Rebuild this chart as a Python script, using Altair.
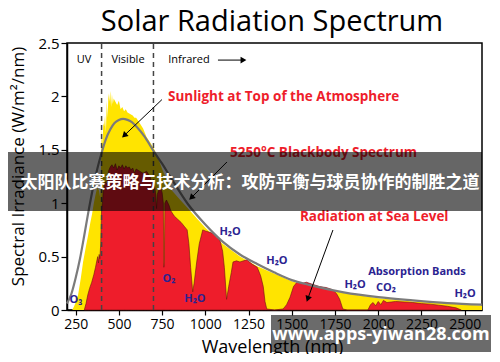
import altair as alt
import pandas as pd

# ---------------- data ----------------
# Sunlight at top of the atmosphere (yellow)
etr_wl = [230, 240, 250, 264, 280, 293, 310, 322, 335, 345, 355, 365, 375, 385, 392, 396,
          400, 405, 410, 415, 420, 425, 430, 435, 440, 445, 450, 455, 460, 465, 470, 480,
          490, 500, 510, 520, 530, 540, 550, 560, 570, 580, 590, 600, 620, 640, 660, 680,
          700, 725, 750, 800, 850, 900, 950, 1000, 1100, 1200, 1300, 1400, 1500, 1600,
          1700, 1800, 1900, 2000, 2100, 2200, 2300, 2400, 2500, 2600]
etr_val = [0.0, 0.03, 0.07, 0.14, 0.3, 0.45, 0.6, 0.7, 0.82, 0.9, 1.0, 1.08, 1.15, 1.12, 1.05, 1.25,
           1.7, 1.55, 1.75, 1.72, 1.82, 1.66, 1.96, 1.8, 2.03, 1.95, 2.05, 1.9, 2.02, 1.93, 1.98, 1.95,
           1.92, 1.96, 1.88, 1.9, 1.86, 1.88, 1.85, 1.84, 1.83, 1.82, 1.8, 1.8, 1.75, 1.7, 1.62, 1.57,
           1.52, 1.43, 1.32, 1.13, 1.04, 0.95, 0.86, 0.77, 0.62, 0.5, 0.41, 0.34, 0.27, 0.225,
           0.19, 0.16, 0.135, 0.11, 0.095, 0.08, 0.07, 0.06, 0.05, 0.043]

# Radiation at sea level (red)
sea_wl = [300, 310, 320, 330, 343, 355, 365, 371, 378, 382, 386, 390, 395, 400, 405, 410,
          420, 430, 440, 450, 460, 470, 480, 490, 500, 510, 520, 530, 540, 550, 560, 570,
          580, 590, 600, 620, 640, 660, 680, 690, 700, 712, 718, 722, 730, 740, 750, 757,
          760, 763, 766, 775, 790, 800, 820, 840, 860, 880, 895, 905, 915, 927, 935, 950,
          965, 985, 1000, 1040, 1065, 1085, 1100, 1110, 1123, 1135, 1150, 1160, 1180, 1200,
          1240, 1270, 1300, 1320, 1335, 1345, 1355, 1400, 1450, 1470, 1490, 1510, 1530, 1560,
          1585, 1620, 1660, 1700, 1737, 1760, 1777, 1795, 1820, 1940, 1955, 1970, 1985, 2000,
          2015, 2030, 2050, 2100, 2150, 2200, 2250, 2300, 2350, 2400, 2450, 2480]
sea_val = [0.0, 0.06, 0.14, 0.2, 0.26, 0.33, 0.4, 0.45, 0.5, 0.44, 0.52, 0.48, 0.62, 0.95, 1.0, 1.12,
           1.2, 1.18, 1.3, 1.34, 1.36, 1.33, 1.37, 1.31, 1.35, 1.33, 1.36, 1.32, 1.35, 1.33, 1.34, 1.31,
           1.33, 1.28, 1.32, 1.3, 1.28, 1.3, 1.25, 1.2, 1.22, 1.1, 0.95, 1.08, 1.12, 1.15, 1.1, 1.0,
           0.4, 0.45, 1.0, 1.03, 0.98, 0.93, 0.88, 0.85, 0.82, 0.78, 0.75, 0.62, 0.4, 0.17, 0.25, 0.45,
           0.62, 0.75, 0.74, 0.72, 0.68, 0.65, 0.55, 0.4, 0.1, 0.22, 0.35, 0.45, 0.46, 0.45,
           0.47, 0.43, 0.4, 0.32, 0.22, 0.08, 0.01, 0.0, 0.01, 0.05, 0.12, 0.22, 0.26, 0.25,
           0.26, 0.24, 0.22, 0.21, 0.19, 0.15, 0.1, 0.01, 0.0, 0.0, 0.05, 0.07, 0.04, 0.08,
           0.05, 0.09, 0.07, 0.08, 0.075, 0.07, 0.06, 0.055, 0.045, 0.035, 0.02, 0.0]

# 5250 °C blackbody spectrum (grey curve)
bb_wl = [200, 225, 250, 275, 300, 325, 350, 375, 400, 425, 450, 475, 500, 525, 550, 575,
         600, 650, 700, 750, 800, 900, 1000, 1100, 1200, 1300, 1400, 1500, 1600, 1800,
         2000, 2200, 2400, 2600]
bb_val = [0.06, 0.15, 0.3, 0.48, 0.7, 0.93, 1.14, 1.32, 1.47, 1.6, 1.69, 1.75, 1.78, 1.79, 1.78, 1.76,
          1.72, 1.62, 1.49, 1.37, 1.24, 0.99, 0.8, 0.64, 0.52, 0.43, 0.35, 0.28, 0.235, 0.165,
          0.12, 0.09, 0.065, 0.05]

x_ticks = [250, 500, 750, 1000, 1250, 1500, 1750, 2000, 2250, 2500]
y_ticks = [0, 0.5, 1, 1.5, 2, 2.5]
region_bounds = [400, 700]

region_names = ["UV", "Visible", "Infrared"]
region_wl = [298, 553, 905]
region_val = [2.34, 2.34, 2.34]

red_labels = ["Sunlight at Top of the Atmosphere", "5250°C Blackbody Spectrum", "Radiation at Sea Level"]
red_wl = [784, 1143, 1547]
red_val = [1.99, 1.47, 0.87]

band_labels = ["O₃", "O₂", "H₂O", "H₂O", "H₂O", "H₂O", "CO₂", "Absorption Bands", "H₂O"]
band_wl = [252, 790, 940, 1143, 1414, 1866, 2045, 2224, 2502]
band_val = [0.094, 0.29, 0.10, 0.73, 0.46, 0.234, 0.206, 0.356, 0.15]

arrow_wl = [749, 1125, 1738, 1073]
arrow_val = [1.97, 1.386, 0.749, 2.34]
arrow_wl2 = [535, 923, 1594, 1215]
arrow_val2 = [1.64, 1.058, 0.112, 2.34]
arrow_angle = [226, 225, 200, 90]

banner_text = "太阳队比赛策略与技术分析：攻防平衡与球员协作的制胜之道"
watermark_text = "www.apps-yiwan28.com"
title_text = "Solar Radiation Spectrum"

# ---------------- chart ----------------
FONT = "Open Sans, DejaVu Sans"
xs = alt.Scale(domain=[200, 2600], nice=False, zero=False)
ys = alt.Scale(domain=[0, 2.5], nice=False, zero=False)

xaxis = alt.Axis(values=x_ticks, format="d", title="Wavelength (nm)", titleFont=FONT,
                 titleFontSize=18, titleFontWeight="normal", titleColor="black",
                 titleX=205, titleY=37, titleBaseline="middle", titleAlign="center",
                 labelFont=FONT, labelFontSize=14, labelColor="black", labelPadding=2,
                 tickColor="black", tickSize=5, tickWidth=1.2, domainColor="black",
                 domainWidth=1.5, grid=False)
yaxis = alt.Axis(values=y_ticks, format="~g", title="Spectral Irradiance (W/m²/nm)",
                 titleFont=FONT, titleFontSize=17, titleFontWeight="normal", titleColor="black",
                 titleX=-49, titleY=123, titleAngle=270, titleBaseline="middle",
                 titleAlign="center", labelFont=FONT, labelFontSize=15, labelColor="black",
                 labelPadding=2, tickColor="black", tickSize=6, tickWidth=1.2,
                 domainColor="black", domainWidth=1.5, grid=False)

X = alt.X("wl:Q", scale=xs, axis=xaxis)
Y = alt.Y("val:Q", scale=ys, axis=yaxis)

etr_df = pd.DataFrame({"wl": etr_wl, "val": etr_val})
sea_df = pd.DataFrame({"wl": sea_wl, "val": sea_val})
bb_df = pd.DataFrame({"wl": bb_wl, "val": bb_val})
bound_df = pd.DataFrame({"wl": region_bounds, "val": [0, 0], "val2": [2.5, 2.5]})
region_df = pd.DataFrame({"wl": region_wl, "val": region_val, "t": region_names})
red_df = pd.DataFrame({"wl": red_wl, "val": red_val, "t": red_labels})
band_df = pd.DataFrame({"wl": band_wl, "val": band_val, "t": band_labels})
arrow_df = pd.DataFrame({"wl": arrow_wl, "val": arrow_val, "wl2": arrow_wl2,
                         "val2": arrow_val2, "ang": arrow_angle})

yellow = alt.Chart(etr_df).mark_area(color="#FFE400", opacity=1).encode(x=X, y=Y)
red = alt.Chart(sea_df).mark_area(color="#EE1D2B", opacity=1, stroke="#6e1010",
                                  strokeWidth=0.6).encode(x=X, y=Y)
grey = alt.Chart(bb_df).mark_line(color="#7b7b7b", strokeWidth=2.2,
                                  interpolate="monotone").encode(x=X, y=Y)
bounds = alt.Chart(bound_df).mark_rule(color="#444444", strokeWidth=1.5,
                                       strokeDash=[5, 4]).encode(x=X, y=Y, y2="val2:Q")
arrow_lines = alt.Chart(arrow_df).mark_rule(color="black", strokeWidth=1).encode(
    x=X, y=Y, x2="wl2:Q", y2="val2:Q")
arrow_heads = alt.Chart(arrow_df).mark_point(shape="triangle", filled=True, color="black",
                                             size=45, opacity=1).encode(
    x=alt.X("wl2:Q", scale=xs, axis=xaxis), y=alt.Y("val2:Q", scale=ys, axis=yaxis),
    angle=alt.Angle("ang:Q", scale=None))
region_txt = alt.Chart(region_df).mark_text(font=FONT, fontSize=11, color="black",
                                            align="center", baseline="middle").encode(
    x=X, y=Y, text="t:N")
red_txt = alt.Chart(red_df).mark_text(font=FONT, fontSize=13.5, fontWeight="bold",
                                      color="#EE1D2B", align="left",
                                      baseline="middle").encode(x=X, y=Y, text="t:N")
band_txt = alt.Chart(band_df).mark_text(font=FONT, fontSize=11, fontWeight="bold",
                                        color="#2B2391", align="center",
                                        baseline="middle").encode(x=X, y=Y, text="t:N")

title = alt.Chart(pd.DataFrame({"t": [title_text]})).mark_text(
    font=FONT, fontSize=29, color="black", align="center", baseline="alphabetic").encode(
    x=alt.value(205), y=alt.value(-12), text="t:N")

banner = alt.Chart(pd.DataFrame({"a": [0]})).mark_rect(color="black", opacity=0.6).encode(
    x=alt.value(-62), x2=alt.value(415), y=alt.value(109), y2=alt.value(168))
banner_t = alt.Chart(pd.DataFrame({"t": [banner_text]})).mark_text(
    font="Noto Sans CJK SC", fontSize=17, fontWeight="bold", color="white",
    align="center", baseline="middle").encode(x=alt.value(183), y=alt.value(140), text="t:N")

wm = alt.Chart(pd.DataFrame({"a": [0]})).mark_rect(color="black", opacity=0.58).encode(
    x=alt.value(204), x2=alt.value(424), y=alt.value(272), y2=alt.value(309))
wm_t = alt.Chart(pd.DataFrame({"t": [watermark_text]})).mark_text(
    font=FONT, fontSize=18, fontWeight="bold", color="white",
    align="center", baseline="middle").encode(x=alt.value(314), y=alt.value(292), text="t:N")

chart = alt.layer(
    yellow, red, grey, bounds, arrow_lines, arrow_heads, region_txt, red_txt, band_txt,
    title, banner, banner_t, wm, wm_t
).properties(
    width=415, height=267,
    autosize=alt.AutoSizeParams(type="none"),
    padding={"left": 59, "top": 35, "right": 10, "bottom": 44},
).configure_view(stroke="black", strokeWidth=1.5)

chart.save("out.html", embed_options={"renderer": "svg", "actions": False})
